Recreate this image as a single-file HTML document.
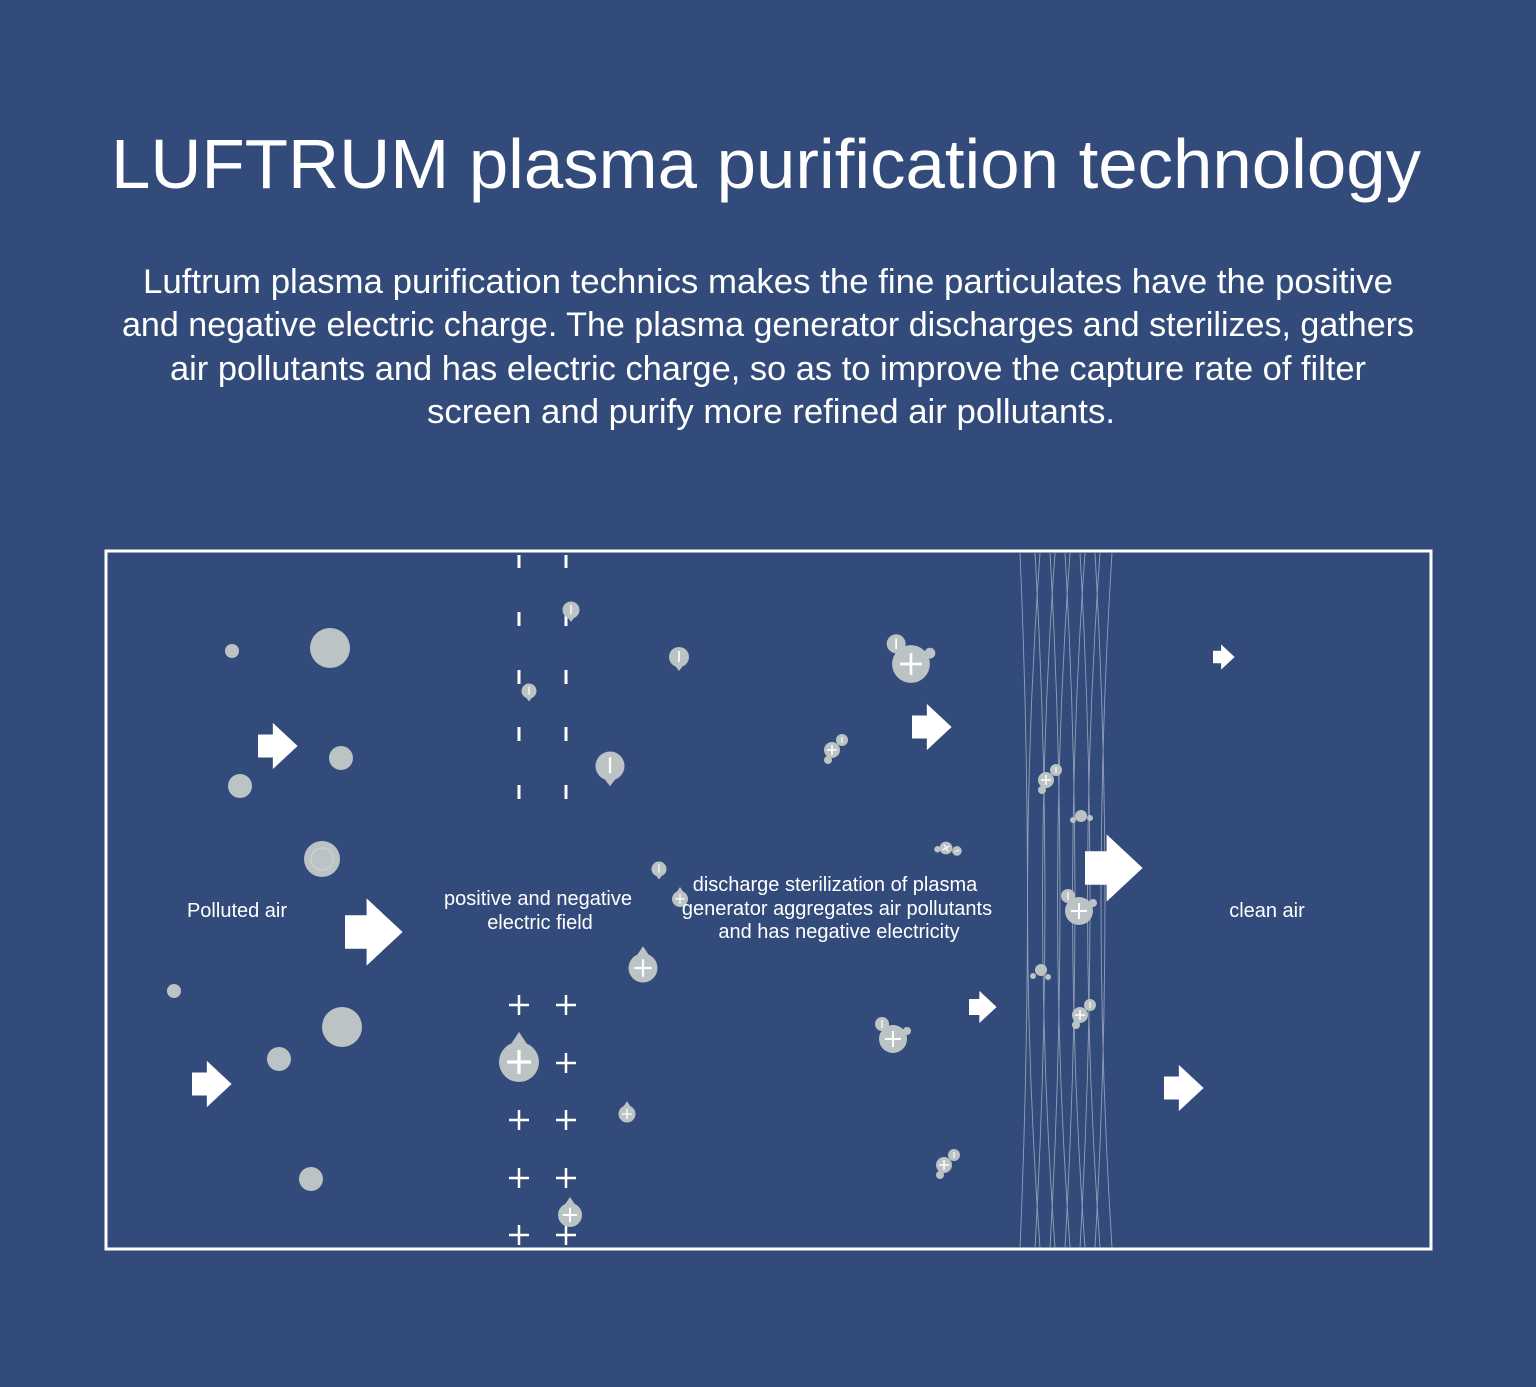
<!DOCTYPE html>
<html><head><meta charset="utf-8"><style>
html,body{margin:0;padding:0;background:#334b7b;}
svg{display:block;}
text{font-family:"Liberation Sans",sans-serif;fill:#fff;}
</style></head><body>
<svg width="1536" height="1387" viewBox="0 0 1536 1387" xmlns="http://www.w3.org/2000/svg">
<defs>
<g id="arr"><path d="M0,-7 H9 V-14 L24,0 L9,14 V7 H0 Z" fill="#fff"/></g>
<g id="neg"><path d="M-6,6 L0,14 L6,6 Z" fill="#bcc3c4"/><circle r="10" fill="#bcc3c4"/><line x1="0" y1="-6" x2="0" y2="5" stroke="#fff" stroke-width="1.6"/></g>
<g id="pos"><path d="M-6,-6 L0,-15 L6,-6 Z" fill="#bcc3c4"/><circle r="10" fill="#bcc3c4"/><path d="M-6,0 H6 M0,-6 V6" stroke="#fff" stroke-width="1.6"/></g>
<g id="plus"><path d="M-10,0 H10 M0,-10 V10" stroke="#fff" stroke-width="2.5"/></g>
<g id="clus"><circle r="14" fill="#bcc3c4"/><circle cx="-11" cy="-15" r="7" fill="#bcc3c4"/><circle cx="14" cy="-8" r="4" fill="#bcc3c4"/><path d="M-8,0 H8 M0,-8 V8" stroke="#fff" stroke-width="2"/><line x1="-11" y1="-19" x2="-11" y2="-11" stroke="#fff" stroke-width="1.3"/></g>
<g id="clus2"><circle r="8" fill="#bcc3c4"/><circle cx="10" cy="-10" r="6" fill="#bcc3c4"/><circle cx="-4" cy="10" r="4" fill="#bcc3c4"/><path d="M-5,0 H5 M0,-5 V5" stroke="#fff" stroke-width="1.5"/><line x1="10" y1="-13" x2="10" y2="-7" stroke="#fff" stroke-width="1.2"/></g>
</defs>

<text x="766" y="188" font-size="70" text-anchor="middle" textLength="1310" lengthAdjust="spacingAndGlyphs">LUFTRUM plasma purification technology</text>
<g font-size="34" text-anchor="middle">
<text x="768" y="293" textLength="1250" lengthAdjust="spacingAndGlyphs">Luftrum plasma purification technics makes the fine particulates have the positive</text>
<text x="768" y="336" textLength="1292" lengthAdjust="spacingAndGlyphs">and negative electric charge. The plasma generator discharges and sterilizes, gathers</text>
<text x="768" y="380" textLength="1196" lengthAdjust="spacingAndGlyphs">air pollutants and has electric charge, so as to improve the capture rate of filter</text>
<text x="771" y="423" textLength="688" lengthAdjust="spacingAndGlyphs">screen and purify more refined air pollutants.</text>
</g>

<rect x="106" y="551" width="1325" height="698" fill="none" stroke="#fff" stroke-width="3"/>

<g fill="none" stroke="#aab4c8" stroke-width="0.9" opacity="0.8">
<path d="M1020,553 Q1035,900 1020,1248"/><path d="M1040,553 Q1015,900 1040,1248"/>
<path d="M1035,553 Q1055,900 1035,1248"/><path d="M1055,553 Q1030,900 1055,1248"/>
<path d="M1050,553 Q1070,900 1050,1248"/><path d="M1070,553 Q1045,900 1070,1248"/>
<path d="M1065,553 Q1085,900 1065,1248"/><path d="M1085,553 Q1060,900 1085,1248"/>
<path d="M1080,553 Q1100,900 1080,1248"/><path d="M1100,553 Q1075,900 1100,1248"/>
<path d="M1095,553 Q1115,900 1095,1248"/><path d="M1112,553 Q1090,900 1112,1248"/>
</g>

<g stroke="#fff" stroke-width="3">
<path d="M519,555 V568 M519,612 V626 M519,670 V684 M519,727 V741 M519,785 V799"/>
<path d="M566,555 V568 M566,612 V626 M566,670 V684 M566,727 V741 M566,785 V799"/>
</g>
<use href="#plus" x="519" y="1005"/><use href="#plus" x="566" y="1005"/>
<use href="#plus" x="566" y="1063"/>
<use href="#plus" x="519" y="1120"/><use href="#plus" x="566" y="1120"/>
<use href="#plus" x="519" y="1178"/><use href="#plus" x="566" y="1178"/>
<use href="#plus" x="519" y="1235"/><use href="#plus" x="566" y="1235"/>

<g fill="#bcc3c4">
<circle cx="232" cy="651" r="7"/><circle cx="330" cy="648" r="20"/>
<circle cx="341" cy="758" r="12"/><circle cx="240" cy="786" r="12"/>
<circle cx="322" cy="859" r="18"/><circle cx="174" cy="991" r="7"/>
<circle cx="342" cy="1027" r="20"/><circle cx="279" cy="1059" r="12"/>
<circle cx="311" cy="1179" r="12"/>
</g>
<circle cx="322" cy="859" r="11" fill="none" stroke="#d0d6d8" stroke-width="1"/>

<g transform="translate(571,610) scale(0.85)"><use href="#neg"/></g>
<g transform="translate(529,691) scale(0.75)"><use href="#neg"/></g>
<g transform="translate(679,657)"><use href="#neg"/></g>
<g transform="translate(610,766) scale(1.45)"><use href="#neg"/></g>
<g transform="translate(659,869) scale(0.75)"><use href="#neg"/></g>
<g transform="translate(680,899) scale(0.8)"><use href="#pos"/></g>
<g transform="translate(643,968) scale(1.45)"><use href="#pos"/></g>
<g transform="translate(519,1062) scale(2)"><use href="#pos"/></g>
<g transform="translate(627,1114) scale(0.85)"><use href="#pos"/></g>
<g transform="translate(570,1215) scale(1.2)"><use href="#pos"/></g>

<g transform="translate(911,664) scale(1.35)"><use href="#clus"/></g>
<g transform="translate(832,750)"><use href="#clus2"/></g>
<g transform="translate(946,848) scale(0.8) rotate(60)"><use href="#clus2"/></g>
<g transform="translate(893,1039)"><use href="#clus"/></g>
<g transform="translate(944,1165)"><use href="#clus2"/></g>
<g transform="translate(1046,780)"><use href="#clus2"/></g>
<g transform="translate(1079,911)"><use href="#clus"/></g>
<g transform="translate(1080,1015)"><use href="#clus2"/></g>
<g fill="#bcc3c4"><circle cx="1081" cy="816" r="6"/><circle cx="1073" cy="820" r="3"/><circle cx="1090" cy="818" r="3"/>
<circle cx="1041" cy="970" r="6"/><circle cx="1033" cy="976" r="3"/><circle cx="1048" cy="977" r="3"/></g>

<g transform="translate(1213,657) scale(0.9)"><use href="#arr"/></g>
<g transform="translate(258,746) scale(1.65)"><use href="#arr"/></g>
<g transform="translate(912,727) scale(1.65)"><use href="#arr"/></g>
<g transform="translate(345,932) scale(2.4)"><use href="#arr"/></g>
<g transform="translate(1085,868) scale(2.4)"><use href="#arr"/></g>
<g transform="translate(969,1007) scale(1.15)"><use href="#arr"/></g>
<g transform="translate(192,1084) scale(1.65)"><use href="#arr"/></g>
<g transform="translate(1164,1088) scale(1.65)"><use href="#arr"/></g>

<g font-size="20" text-anchor="middle">
<text x="237" y="917">Polluted air</text>
<text x="538" y="905">positive and negative</text>
<text x="540" y="929">electric field</text>
<text x="835" y="891">discharge sterilization of plasma</text>
<text x="837" y="915">generator aggregates air pollutants</text>
<text x="839" y="938">and has negative electricity</text>
<text x="1267" y="917">clean air</text>
</g>
</svg>
</body></html>
